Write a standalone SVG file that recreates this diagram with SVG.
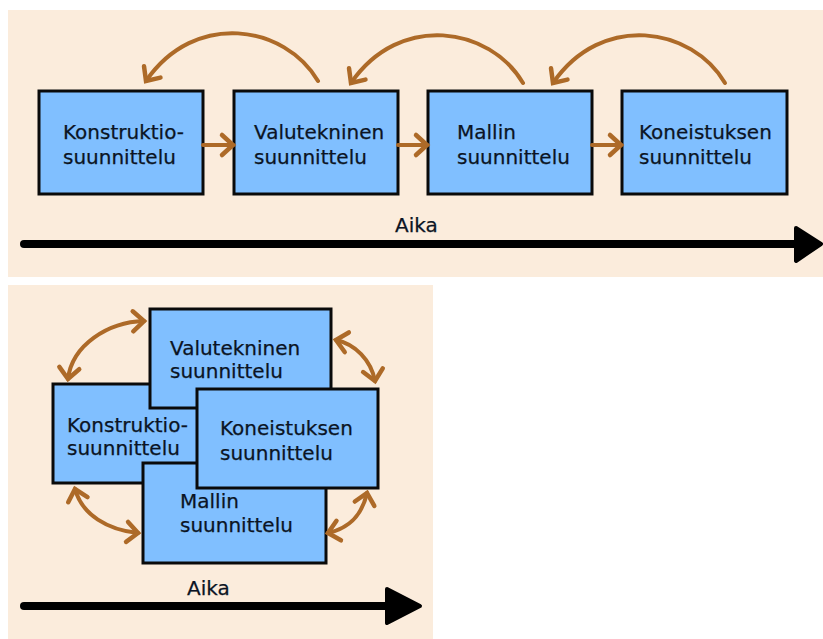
<svg xmlns="http://www.w3.org/2000/svg" width="823" height="639" viewBox="0 0 823 639">
  <style>
    .panel { fill: #fbecdc; }
    .box { fill: #80bfff; stroke: #0a0a0a; stroke-width: 3; }
    .lbl { font-family: "DejaVu Sans", Verdana, sans-serif; font-size: 20px; fill: #0b1424; stroke: #0b1424; stroke-width: 0.25; }
    .flow { fill: none; stroke: #ad6a28; stroke-width: 4; stroke-linecap: round; }
    .time { stroke: #000; stroke-width: 8; stroke-linecap: round; }
    .timehead { fill: #000; stroke: #000; stroke-width: 4; stroke-linejoin: round; }
  </style>
  <defs>
    <marker id="chev" markerUnits="userSpaceOnUse" markerWidth="30" markerHeight="30" viewBox="-15 -15 30 30" refX="0" refY="0" orient="auto-start-reverse">
      <path d="M-11,-10 L0,0 L-11,10" fill="none" stroke="#ad6a28" stroke-width="4.5" stroke-linecap="round" stroke-linejoin="miter"/>
    </marker>
  </defs>

  <!-- upper panel: sequential design -->
  <rect class="panel" x="8" y="10" width="815" height="267"/>
  <!-- lower panel: concurrent design -->
  <rect class="panel" x="8" y="285" width="425" height="354"/>

  <g id="seq-konstruktio">
    <rect class="box" x="39" y="91" width="164" height="103"/>
    <text class="lbl" x="63" y="139">Konstruktio-</text>
    <text class="lbl" x="63" y="164">suunnittelu</text>
  </g>
  <g id="seq-valutekninen">
    <rect class="box" x="234" y="91" width="164" height="103"/>
    <text class="lbl" x="254" y="139">Valutekninen</text>
    <text class="lbl" x="254" y="164">suunnittelu</text>
  </g>
  <g id="seq-mallin">
    <rect class="box" x="428" y="91" width="164" height="103"/>
    <text class="lbl" x="457" y="139">Mallin</text>
    <text class="lbl" x="457" y="164">suunnittelu</text>
  </g>
  <g id="seq-koneistuksen">
    <rect class="box" x="622" y="91" width="165" height="103"/>
    <text class="lbl" x="639" y="139">Koneistuksen</text>
    <text class="lbl" x="639" y="164">suunnittelu</text>
  </g>

  <g id="seq-connectors">
    <path class="flow" d="M203,145 L233,145" marker-end="url(#chev)"/>
    <path class="flow" d="M398,145 L427,145" marker-end="url(#chev)"/>
    <path class="flow" d="M592,145 L621,145" marker-end="url(#chev)"/>
    <path class="flow" d="M318,81 C285,25 195,10 146,81" marker-end="url(#chev)"/>
    <path class="flow" d="M523,83 C490,27 400,12 351,83" marker-end="url(#chev)"/>
    <path class="flow" d="M725,83 C692,27 602,12 553,83" marker-end="url(#chev)"/>
  </g>

  <g id="seq-time">
    <line class="time" x1="24" y1="244" x2="800" y2="244"/>
    <path class="timehead" d="M796,228 L821,244 L796,261 Z"/>
    <text class="lbl" x="395" y="232">Aika</text>
  </g>

  <!-- overlapping boxes, back to front -->
  <g id="par-konstruktio">
    <rect class="box" x="53" y="384" width="160" height="99"/>
    <text class="lbl" x="67" y="432">Konstruktio-</text>
    <text class="lbl" x="67" y="455">suunnittelu</text>
  </g>
  <g id="par-valutekninen">
    <rect class="box" x="150" y="309" width="181" height="99"/>
    <text class="lbl" x="170" y="355">Valutekninen</text>
    <text class="lbl" x="170" y="378">suunnittelu</text>
  </g>
  <g id="par-mallin">
    <rect class="box" x="143" y="463" width="183" height="100"/>
    <text class="lbl" x="180" y="508">Mallin</text>
    <text class="lbl" x="180" y="532">suunnittelu</text>
  </g>
  <g id="par-koneistuksen">
    <rect class="box" x="197" y="389" width="181" height="99"/>
    <text class="lbl" x="220" y="435">Koneistuksen</text>
    <text class="lbl" x="220" y="460">suunnittelu</text>
  </g>

  <g id="par-connectors">
    <path class="flow" d="M68,379 C72,345 108,322 144,321" marker-start="url(#chev)" marker-end="url(#chev)"/>
    <path class="flow" d="M336,340 C355,344 371,360 375,381" marker-start="url(#chev)" marker-end="url(#chev)"/>
    <path class="flow" d="M75,489 C82,515 108,530 138,533" marker-start="url(#chev)" marker-end="url(#chev)"/>
    <path class="flow" d="M328,533 C350,528 362,515 367,493" marker-start="url(#chev)" marker-end="url(#chev)"/>
  </g>

  <g id="par-time">
    <line class="time" x1="24" y1="606" x2="392" y2="606"/>
    <path class="timehead" d="M387,589 L420,606 L387,623 Z"/>
    <text class="lbl" x="187" y="595">Aika</text>
  </g>
</svg>
